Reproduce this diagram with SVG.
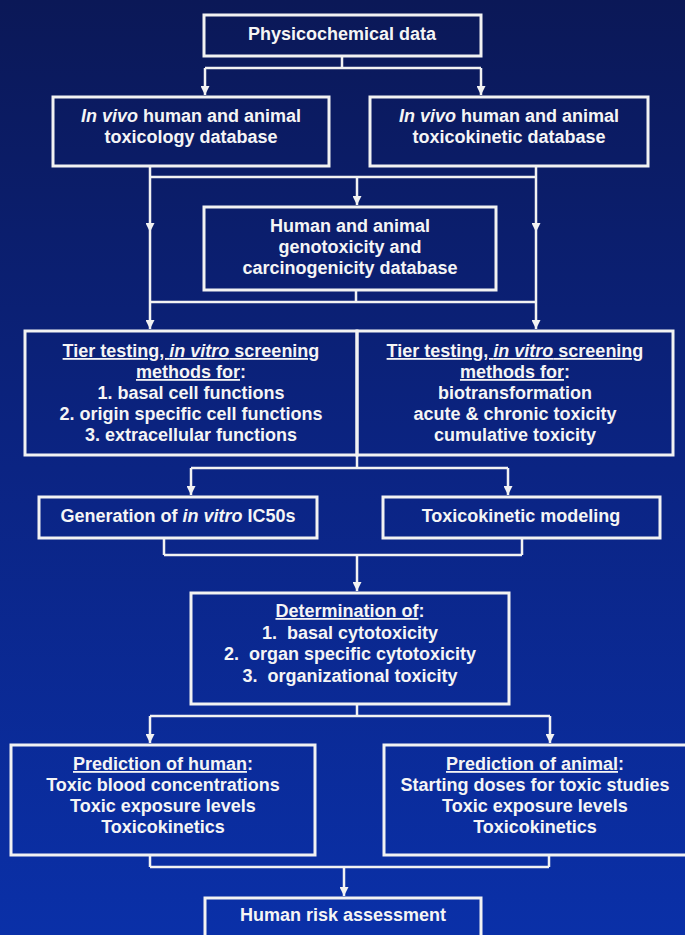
<svg xmlns="http://www.w3.org/2000/svg" width="685" height="935" viewBox="0 0 685 935">
  <defs>
    <linearGradient id="bg" x1="0" y1="0" x2="0" y2="1">
      <stop offset="0" stop-color="#0b1857"/>
      <stop offset="0.5" stop-color="#0b2483"/>
      <stop offset="1" stop-color="#0a30a8"/>
    </linearGradient>
    <marker id="arrow" viewBox="0 0 10 10" refX="10" refY="5" markerWidth="9" markerHeight="9" markerUnits="userSpaceOnUse" orient="auto">
      <path d="M0,0 L10,5 L0,10 z" fill="#f2f2f2"/>
    </marker>
    <style>
      .box { fill: none; stroke: #f2f2f2; stroke-width: 3; }
      .c { fill: none; stroke: #f2f2f2; stroke-width: 2.5; }
      .a { marker-end: url(#arrow); }
      .t { font-family: "Liberation Sans", Arial, sans-serif; font-weight: bold; font-size: 18px; fill: #f5f5f5; text-anchor: middle; }
      .i { font-style: italic; }
      .u { text-decoration: underline; }
    </style>
  </defs>

  <rect x="0" y="0" width="685" height="935" fill="url(#bg)"/>

  <!-- connectors -->
  <g id="connectors">
    <!-- physicochemical data to both in vivo databases -->
    <path class="c" d="M342,56 V68 M205,68 H481"/>
    <path class="c a" d="M205,68 V95"/>
    <path class="c a" d="M481,68 V95"/>
    <!-- in vivo databases to genotoxicity database and tier testing -->
    <path class="c" d="M150,166 V177 M536,166 V177 M150,177 H536"/>
    <path class="c a" d="M357,177 V205"/>
    <path class="c a" d="M150,177 V232"/>
    <path class="c a" d="M150,232 V329"/>
    <path class="c a" d="M536,177 V232"/>
    <path class="c a" d="M536,232 V329"/>
    <!-- genotoxicity database joins the side lines -->
    <path class="c" d="M356,290 V302 M150,302 H536"/>
    <!-- tier testing to IC50 generation and toxicokinetic modeling -->
    <path class="c" d="M357,455 V468 M191,468 H508"/>
    <path class="c a" d="M191,468 V495"/>
    <path class="c a" d="M508,468 V495"/>
    <!-- IC50 and modeling to determination -->
    <path class="c" d="M164,538 V555 M522,538 V555 M164,555 H522"/>
    <path class="c a" d="M357,555 V591"/>
    <!-- determination to predictions -->
    <path class="c" d="M357,704 V716 M150,716 H550"/>
    <path class="c a" d="M150,716 V743"/>
    <path class="c a" d="M550,716 V743"/>
    <!-- predictions to risk assessment -->
    <path class="c" d="M150,855 V867 M549,855 V867 M150,867 H549"/>
    <path class="c a" d="M344,867 V896"/>
  </g>

  <g id="physicochemical">
    <rect class="box" x="204" y="15" width="277" height="41"/>
    <text class="t" x="342" y="40">Physicochemical data</text>
  </g>

  <g id="invivo-toxicology">
    <rect class="box" x="53" y="97" width="276" height="69"/>
    <text class="t" x="191" y="122"><tspan class="i">In vivo</tspan> human and animal</text>
    <text class="t" x="191" y="143">toxicology database</text>
  </g>

  <g id="invivo-toxicokinetic">
    <rect class="box" x="370" y="97" width="278" height="69"/>
    <text class="t" x="509" y="122"><tspan class="i">In vivo</tspan> human and animal</text>
    <text class="t" x="509" y="143">toxicokinetic database</text>
  </g>

  <g id="genotoxicity">
    <rect class="box" x="204" y="207" width="292" height="83"/>
    <text class="t" x="350" y="232">Human and animal</text>
    <text class="t" x="350" y="253">genotoxicity and</text>
    <text class="t" x="350" y="274">carcinogenicity database</text>
  </g>

  <g id="tier-basal">
    <rect class="box" x="25" y="331" width="332" height="124"/>
    <text class="t" x="191" y="357"><tspan class="u">Tier testing, <tspan class="i">in vitro</tspan> screening</tspan></text>
    <text class="t" x="191" y="378"><tspan class="u">methods for</tspan>:</text>
    <text class="t" x="191" y="399">1. basal cell functions</text>
    <text class="t" x="191" y="420">2. origin specific cell functions</text>
    <text class="t" x="191" y="441">3. extracellular functions</text>
  </g>

  <g id="tier-kinetic">
    <rect class="box" x="357" y="331" width="316" height="124"/>
    <text class="t" x="515" y="357"><tspan class="u">Tier testing, <tspan class="i">in vitro</tspan> screening</tspan></text>
    <text class="t" x="515" y="378"><tspan class="u">methods for</tspan>:</text>
    <text class="t" x="515" y="399">biotransformation</text>
    <text class="t" x="515" y="420">acute &amp; chronic toxicity</text>
    <text class="t" x="515" y="441">cumulative toxicity</text>
  </g>

  <g id="ic50">
    <rect class="box" x="39" y="497" width="278" height="41"/>
    <text class="t" x="178" y="522">Generation of <tspan class="i">in vitro</tspan> IC50s</text>
  </g>

  <g id="tk-modeling">
    <rect class="box" x="383" y="497" width="277" height="41"/>
    <text class="t" x="521" y="522">Toxicokinetic modeling</text>
  </g>

  <g id="determination">
    <rect class="box" x="191" y="593" width="318" height="111"/>
    <text class="t" x="350" y="617"><tspan class="u">Determination of</tspan>:</text>
    <text class="t" x="350" y="639">1.&#160; basal cytotoxicity</text>
    <text class="t" x="350" y="660">2.&#160; organ specific cytotoxicity</text>
    <text class="t" x="350" y="682">3.&#160; organizational toxicity</text>
  </g>

  <g id="prediction-human">
    <rect class="box" x="11" y="745" width="304" height="110"/>
    <text class="t" x="163" y="770"><tspan class="u">Prediction of human</tspan>:</text>
    <text class="t" x="163" y="791">Toxic blood concentrations</text>
    <text class="t" x="163" y="812">Toxic exposure levels</text>
    <text class="t" x="163" y="833">Toxicokinetics</text>
  </g>

  <g id="prediction-animal">
    <rect class="box" x="384" y="745" width="320" height="110"/>
    <text class="t" x="535" y="770"><tspan class="u">Prediction of animal</tspan>:</text>
    <text class="t" x="535" y="791">Starting doses for toxic studies</text>
    <text class="t" x="535" y="812">Toxic exposure levels</text>
    <text class="t" x="535" y="833">Toxicokinetics</text>
  </g>

  <g id="risk-assessment">
    <rect class="box" x="205" y="898" width="276" height="60"/>
    <text class="t" x="343" y="921">Human risk assessment</text>
  </g>
</svg>
